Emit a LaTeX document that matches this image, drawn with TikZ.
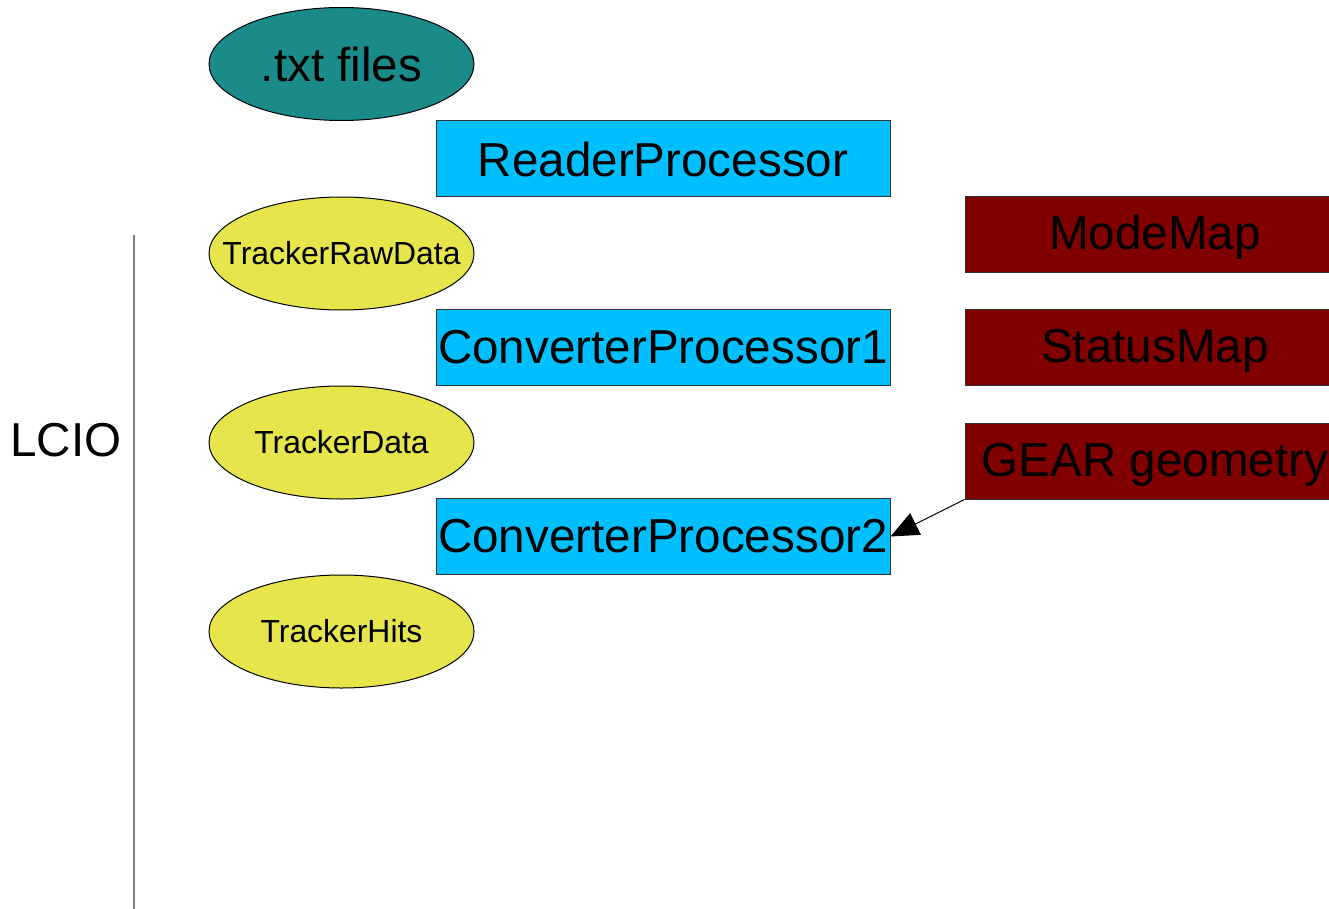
\documentclass[tikz,border=0pt]{standalone}
\usepackage{fontspec}
\setmainfont{Liberation Sans}
\usetikzlibrary{shapes.geometric,arrows.meta}
\definecolor{tealfill}{RGB}{26,139,137}
\definecolor{procblue}{RGB}{0,191,255}
\definecolor{datayellow}{RGB}{230,230,76}
\definecolor{mapred}{RGB}{128,0,0}
\begin{document}
\begin{tikzpicture}[x=1pt,y=-1pt,
  bigtext/.style={font=\fontsize{47.6}{52}\selectfont,inner sep=0pt},
  smalltext/.style={font=\fontsize{31.9}{36}\selectfont,inner sep=0pt},
  blob/.style={ellipse,draw=black,line width=1pt,minimum width=265pt,minimum height=113pt,inner sep=0pt},
  proc/.style={rectangle,draw=black!80,line width=1pt,fill=procblue,minimum width=454pt,minimum height=76pt,inner sep=0pt,bigtext},
  mapbox/.style={rectangle,draw=black!80,line width=1pt,fill=mapred,minimum width=380pt,minimum height=76pt,inner sep=0pt}]
\useasboundingbox (0,0) rectangle (1329,909);
\node[blob,fill=tealfill] (txt) at (341.5,64) {};
\node[bigtext] (txtl) at (txt.center) {.txt files};
\node[proc] (reader) at (663,159) {ReaderProcessor};
\node[blob,fill=datayellow] (raw) at (341.5,253.5) {};
\node[smalltext] (rawl) at (raw.center) {TrackerRawData};
\node[proc] (cp1) at (663,347.5) {ConverterProcessor1};
\node[blob,fill=datayellow] (data) at (341.5,442.5) {};
\node[smalltext] (datal) at (data.center) {TrackerData};
\node[proc] (cp2) at (663,536.5) {ConverterProcessor2};
\node[blob,fill=datayellow] (hits) at (341.5,631.5) {};
\node[smalltext] (hitsl) at (hits.center) {TrackerHits};
\node[mapbox] (mode) at (1155,234.5) {};
\node[bigtext,anchor=base] (model) at ([yshift=-15pt]mode.center) {ModeMap};
\node[mapbox] (status) at (1155,347.5) {};
\node[bigtext,anchor=base] (statusl) at ([yshift=-15pt]status.center) {StatusMap};
\node[mapbox] (gear) at (1155,461) {};
\node[bigtext,anchor=base] (gearl) at ([yshift=-15pt]gear.center) {GEAR geometry};
\draw[line width=1pt,-{Triangle[length=28pt,width=24pt]}] (gear.south west) -- (cp2.east);
\coordinate (lt) at (134,235);
\coordinate (lb) at (134,909);
\draw[line width=1.5pt,black!50] (lt) -- (lb);
\node[bigtext] (lcio) at (66,440) {LCIO};
\end{tikzpicture}
\end{document}
